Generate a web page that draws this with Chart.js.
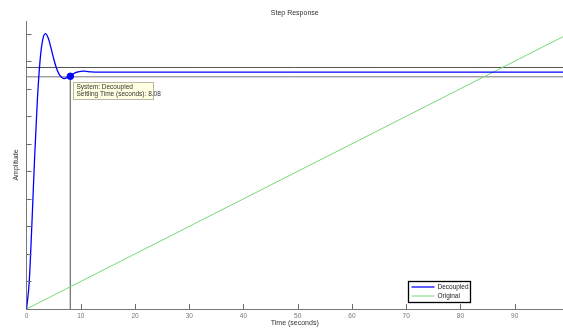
<!DOCTYPE html>
<html>
<head>
<meta charset="utf-8">
<script src="https://cdn.jsdelivr.net/npm/chart.js@4/dist/chart.umd.min.js"></script>
<style>
  html, body { margin: 0; padding: 0; background: #fff; }
  canvas { display: block; }
</style>
</head>
<body>
<canvas id="c" width="563" height="331"></canvas>
<script>
// Step response of the decoupled system (time in seconds, amplitude)
const decoupledTime  = [0, 0.5, 1, 1.5, 2, 2.5, 3, 3.5, 4, 4.5, 5, 5.5, 6, 6.5, 7, 7.5, 8, 8.5, 9, 9.5, 10, 10.5, 11, 12, 13, 14, 98.9];
const decoupledValue = [0, 0.097, 0.311, 0.552, 0.759, 0.903, 0.980, 1.001, 0.985, 0.950, 0.911, 0.877, 0.854, 0.842, 0.838, 0.841, 0.847, 0.853, 0.859, 0.862, 0.864, 0.865, 0.864, 0.862, 0.861, 0.861, 0.861];

// Response of the original system
const originalTime  = [0, 98.9];
const originalValue = [0, 0.99];

// Settling characteristic of the decoupled response
const settlingTime = 8.08;
const settlingValue = 0.846;
const bandUpper = 0.878;
const bandLower = 0.844;

// Axis ranges and tick positions
const xMin = 0, xMax = 98.9;
const yMin = 0, yMax = 1.047;
const xTicks = [10, 20, 30, 40, 50, 60, 70, 80, 90];
const yTicks = [0.1, 0.2, 0.3, 0.4, 0.5, 0.6, 0.7, 0.8, 0.9, 1.0];

const FONT = 'Liberation Sans, Arial, Helvetica, sans-serif';

const toPoints = (xs, ys) => xs.map((x, i) => ({ x: x, y: ys[i] }));

// Inward tick marks on left and bottom axes
const innerTicks = {
  id: 'innerTicks',
  afterDatasetsDraw(chart) {
    const { ctx, chartArea, scales } = chart;
    ctx.save();
    ctx.strokeStyle = '#6a6a6a';
    ctx.lineWidth = 1;
    ctx.beginPath();
    yTicks.forEach(v => {
      const y = Math.round(scales.y.getPixelForValue(v)) + 0.5;
      ctx.moveTo(chartArea.left, y);
      ctx.lineTo(chartArea.left + 5, y);
    });
    xTicks.forEach(v => {
      const x = Math.round(scales.x.getPixelForValue(v)) + 0.5;
      ctx.moveTo(x, chartArea.bottom);
      ctx.lineTo(x, chartArea.bottom - 5);
    });
    ctx.stroke();
    ctx.restore();
  }
};

// Data tip next to the settling-time marker
const settlingTip = {
  id: 'settlingTip',
  afterDatasetsDraw(chart) {
    const { ctx, scales } = chart;
    const px = scales.x.getPixelForValue(settlingTime);
    const py = scales.y.getPixelForValue(settlingValue);
    const bx = Math.round(px + 3) + 0.5, by = Math.round(py + 6) + 0.5;
    const w = 80, h = 17;
    ctx.save();
    ctx.fillStyle = '#ffffe1';
    ctx.strokeStyle = '#b8b8a8';
    ctx.lineWidth = 1;
    ctx.fillRect(bx, by, w, h);
    ctx.strokeRect(bx, by, w, h);
    ctx.fillStyle = '#333';
    ctx.font = '6.5px ' + FONT;
    ctx.textBaseline = 'middle';
    ctx.fillText('System: Decoupled', bx + 3, by + 5);
    ctx.fillText('Settling Time (seconds): ' + settlingTime.toFixed(2), bx + 3, by + 12);
    ctx.restore();
  }
};

// Boxed legend inside the plot area, lower right
const boxLegend = {
  id: 'boxLegend',
  afterDraw(chart) {
    const { ctx } = chart;
    const items = chart.data.datasets.filter(d => d.inLegend);
    const x = 408.5, y = 281.5, w = 62, h = 21;
    ctx.save();
    ctx.fillStyle = '#fff';
    ctx.fillRect(x, y, w, h);
    ctx.strokeStyle = '#000';
    ctx.lineWidth = 1.3;
    ctx.strokeRect(x, y, w, h);
    ctx.font = '6.5px ' + FONT;
    ctx.textBaseline = 'middle';
    items.forEach((d, i) => {
      const ly = y + 5.5 + i * 9;
      ctx.strokeStyle = d.legendColor;
      ctx.lineWidth = d.legendWidth;
      ctx.beginPath();
      ctx.moveTo(x + 3, ly);
      ctx.lineTo(x + 26, ly);
      ctx.stroke();
      ctx.fillStyle = '#222';
      ctx.fillText(d.label, x + 29, ly);
    });
    ctx.restore();
  }
};

new Chart(document.getElementById('c'), {
  type: 'line',
  data: {
    datasets: [
      {
        label: 'Decoupled',
        inLegend: true,
        legendWidth: 2,
        legendColor: '#5c5cff',
        data: toPoints(decoupledTime, decoupledValue),
        borderColor: '#0000ff',
        borderWidth: 1.3,
        pointRadius: 0,
        cubicInterpolationMode: 'monotone',
        order: 1
      },
      {
        label: 'Original',
        inLegend: true,
        legendWidth: 1,
        legendColor: '#78d878',
        data: toPoints(originalTime, originalValue),
        borderColor: '#78d878',
        borderWidth: 1,
        pointRadius: 0,
        order: 2
      },
      {
        label: 'upper band',
        data: [{ x: xMin, y: bandUpper }, { x: xMax, y: bandUpper }],
        borderColor: '#555',
        borderWidth: 1,
        pointRadius: 0,
        order: 3
      },
      {
        label: 'lower band',
        data: [{ x: xMin, y: bandLower }, { x: xMax, y: bandLower }],
        borderColor: '#777',
        borderWidth: 1,
        pointRadius: 0,
        order: 3
      },
      {
        label: 'settling time',
        data: [{ x: settlingTime, y: yMin }, { x: settlingTime, y: bandLower }],
        borderColor: '#777',
        borderWidth: 1.3,
        pointRadius: 0,
        order: 3
      },
      {
        label: 'settling point',
        data: [{ x: settlingTime, y: settlingValue }],
        showLine: false,
        pointRadius: 3.3,
        pointBackgroundColor: '#0000ff',
        pointBorderColor: '#0000ff',
        borderColor: '#0000ff',
        order: 0
      }
    ]
  },
  options: {
    responsive: false,
    animation: false,
    devicePixelRatio: 1,
    layout: { autoPadding: false, padding: { top: 0, right: 0, bottom: 0, left: 0 } },
    plugins: {
      legend: { display: false },
      tooltip: { enabled: false },
      title: {
        display: true,
        text: 'Step Response',
        fullSize: false,
        color: '#333',
        font: { family: FONT, size: 7, weight: 'normal' },
        padding: { top: 9, bottom: 3.6 }
      }
    },
    scales: {
      x: {
        type: 'linear',
        min: xMin,
        max: xMax,
        grid: { display: false, drawTicks: false },
        border: { display: true, color: '#777', width: 1 },
        ticks: {
          stepSize: 10,
          autoSkip: false,
          includeBounds: false,
          maxRotation: 0,
          padding: 3,
          color: '#777',
          font: { family: FONT, size: 6.5 }
        },
        title: {
          display: true,
          text: 'Time (seconds)',
          color: '#333',
          font: { family: FONT, size: 7 },
          padding: { top: 0, bottom: 3.8 }
        },
        afterFit(scale) {
          scale.height = 22;
          scale.paddingLeft = 0;
          scale.paddingRight = 0;
        }
      },
      y: {
        type: 'linear',
        min: yMin,
        max: yMax,
        grid: { display: false, drawTicks: false },
        border: { display: true, color: '#777', width: 1 },
        ticks: { display: false },
        title: {
          display: true,
          text: 'Amplitude',
          color: '#333',
          font: { family: FONT, size: 7 },
          padding: { top: 11.8, bottom: 0 }
        },
        afterFit(scale) {
          scale.width = 26.5;
          scale.paddingTop = 0;
          scale.paddingBottom = 0;
        }
      }
    }
  },
  plugins: [innerTicks, settlingTip, boxLegend]
});
</script>
</body>
</html>
